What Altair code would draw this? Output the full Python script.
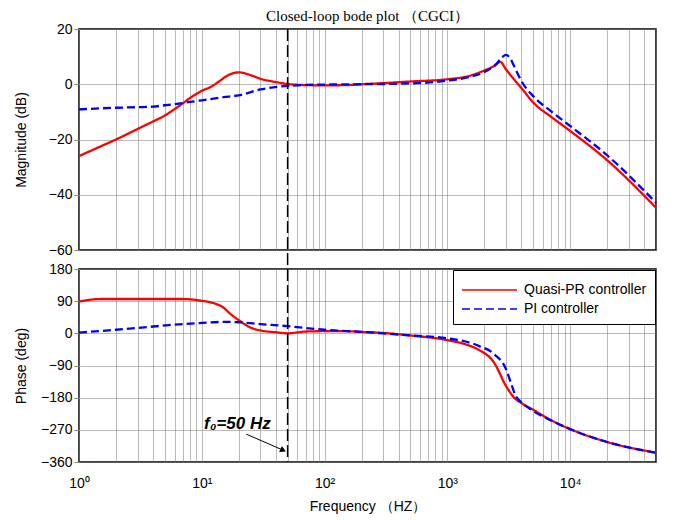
import altair as alt
import pandas as pd

# ---------------- data ----------------
series_names = ["Quasi-PR controller", "PI controller"]

# Magnitude (dB)
freq_mag_pr = [1, 1.5, 2, 3, 4, 5, 6, 7, 8, 10, 12, 14, 16, 18, 20, 25, 30, 40, 50, 70, 100,
               150, 200, 300, 500, 1000, 1500, 2000, 2400, 2700, 3000, 3500, 4000, 5000,
               7000, 10000, 20000, 50000]
mag_pr = [-26.0, -22.5, -20.0, -16.2, -13.5, -11.3, -9.0, -6.9, -5.0, -2.4, -0.8, 1.2, 3.0,
          4.0, 4.3, 3.3, 2.0, 0.8, 0.1, -0.3, -0.4, -0.3, 0.0, 0.4, 1.0, 1.8, 3.0, 5.0, 6.6,
          8.1, 5.4, 1.7, -1.3, -6.6, -11.8, -16.9, -27.5, -44.7]

freq_mag_pi = [1, 2, 3, 4, 5, 6.5, 8, 10, 15, 20, 30, 50, 100, 200, 500, 1000, 1500, 2000,
               2500, 2800, 3000, 3200, 3500, 4000, 5000, 7000, 10000, 20000, 50000]
mag_pi = [-9.1, -8.5, -8.3, -8.1, -7.6, -7.0, -6.4, -5.8, -4.7, -4.0, -1.9, -0.6, -0.1, 0.0,
          0.3, 1.3, 2.6, 4.4, 7.3, 9.8, 10.6, 9.8, 6.5, 1.2, -4.3, -9.8, -15.1, -25.7, -42.9]

# Phase (deg)
freq_ph_pr = [1, 1.5, 2, 5, 7, 10, 12, 15, 17, 20, 25, 30, 40, 50, 70, 100, 150, 200, 300,
              500, 1000, 1500, 1800, 2400, 3000, 3500, 4000, 5000, 7000, 10000, 20000, 50000]
ph_pr = [89, 96, 96, 96, 96, 91, 86, 72, 55, 37, 16, 8, 3, 0, 5, 6, 6, 4, 1, -6, -19, -34,
         -46, -82, -147, -180, -195, -214, -243, -268, -304, -334]

freq_ph_pi = [1, 2, 3, 5, 7, 10, 15, 20, 30, 50, 100, 200, 300, 500, 1000, 1800, 2400, 3000,
              3300, 3600, 4000, 5000, 7000, 10000, 20000, 50000]
ph_pi = [2, 10, 15, 22, 26, 29, 32, 31, 26, 20, 10, 4, 0, -6, -14, -35, -58, -100, -140,
         -175, -193, -217, -244, -268, -304, -334]

f0 = [50]
arrow_freq = [23, 46]
arrow_phase = [-282, -327]
f0_label_pos = [19.5, -254]

x_tick_values = [m * 10 ** k for k in range(5) for m in range(1, 10) if m * 10 ** k <= 50000]
mag_ticks = [-60, -40, -20, 0, 20]
phase_ticks = [-360, -270, -180, -90, 0, 90, 180]


def make_df(freqs_a, vals_a, freqs_b, vals_b):
    rows = []
    for f, v in zip(freqs_a, vals_a):
        rows.append({"freq": f, "value": v, "series": series_names[0]})
    for f, v in zip(freqs_b, vals_b):
        rows.append({"freq": f, "value": v, "series": series_names[1]})
    return pd.DataFrame(rows)


mag_df = make_df(freq_mag_pr, mag_pr, freq_mag_pi, mag_pi)
ph_df = make_df(freq_ph_pr, ph_pr, freq_ph_pi, ph_pi)
f0_df = pd.DataFrame({"freq": f0})
arrow_df = pd.DataFrame({"freq": arrow_freq, "value": arrow_phase})
label_df = pd.DataFrame({"freq": [f0_label_pos[0]], "value": [f0_label_pos[1]],
                         "t": ["f₀=50 Hz"]})
head_df = pd.DataFrame({"freq": [arrow_freq[-1]], "value": [arrow_phase[-1]]})

# ---------------- layout ----------------
W = 577
H1 = 221
H2 = 193
SP = 19

x_scale = alt.Scale(type="log", domain=[1, 50000], nice=False)
color_scale = alt.Scale(domain=series_names, range=["#ff0000", "#0000ff"])
dash_scale = alt.Scale(domain=series_names, range=[[1, 0], [8, 4]])

label_expr = ("datum.value == 1 ? '10⁰' : datum.value == 10 ? '10¹' : "
              "datum.value == 100 ? '10²' : datum.value == 1000 ? '10³' : "
              "datum.value == 10000 ? '10⁴' : ''")

x_top = alt.X("freq:Q", scale=x_scale,
              axis=alt.Axis(values=x_tick_values, labels=False, ticks=False, title=None))
y_top = alt.Y("value:Q", scale=alt.Scale(domain=[-60, 20], nice=False),
              axis=alt.Axis(values=mag_ticks, title="Magnitude (dB)", titlePadding=20,
                            labelOverlap=False))
x_bot = alt.X("freq:Q", scale=x_scale,
              axis=alt.Axis(values=x_tick_values, labelExpr=label_expr, ticks=False,
                            labelFlush=False, labelPadding=14, labelOverlap=False,
                            title="Frequency （HZ）", titlePadding=9))
y_bot = alt.Y("value:Q", scale=alt.Scale(domain=[-360, 180], nice=False),
              axis=alt.Axis(values=phase_ticks, title="Phase (deg)", titlePadding=12,
                            labelOverlap=False))

# ---------------- top: magnitude ----------------
top_lines = alt.Chart(mag_df).mark_line(interpolate="monotone", strokeWidth=2.3).encode(
    x=x_top,
    y=y_top,
    color=alt.Color("series:N", scale=color_scale, legend=None),
    strokeDash=alt.StrokeDash("series:N", scale=dash_scale, legend=None),
    order=alt.Order("freq:Q"),
)
top_rule = alt.Chart(f0_df).mark_rule(color="black", strokeDash=[12, 4], strokeWidth=1.5).encode(
    x=x_top,
    y=alt.value(0),
    y2=alt.value(H1 + SP),
)
top = alt.layer(top_lines, top_rule).properties(
    width=W, height=H1,
    title=alt.Title("Closed-loop bode plot （CGCI）", font="Liberation Serif", fontSize=15,
                    fontWeight="normal", anchor="middle", frame="group", offset=-2,
                    color="black"),
)

# ---------------- bottom: phase ----------------
bot_lines = alt.Chart(ph_df).mark_line(interpolate="monotone", strokeWidth=2.3).encode(
    x=x_bot,
    y=y_bot,
    color=alt.Color("series:N", scale=color_scale,
                    legend=alt.Legend(title=None, orient="top-right", offset=1,
                                      symbolType="M-1,0L4,0", symbolSize=484,
                                      symbolStrokeWidth=1.5, labelFontSize=14,
                                      labelFont="Liberation Sans", labelColor="black",
                                      rowPadding=0, padding=8, labelOffset=39,
                                      strokeColor="black", fillColor="white",
                                      cornerRadius=0)),
    strokeDash=alt.StrokeDash("series:N", scale=dash_scale,
                              legend=alt.Legend(title=None, orient="top-right")),
    order=alt.Order("freq:Q"),
)
bot_rule = alt.Chart(f0_df).mark_rule(color="black", strokeDash=[12, 4], strokeWidth=1.5).encode(
    x=x_bot,
    y=alt.value(0),
    y2=alt.value(H2),
)
arrow_line = alt.Chart(arrow_df).mark_line(color="black", strokeWidth=1).encode(
    x=x_bot,
    y=y_bot,
)
arrow_head = alt.Chart(head_df).mark_point(shape="triangle-right", filled=True, color="black",
                                           size=45, angle=25, opacity=1).encode(
    x=x_bot,
    y=y_bot,
)
f0_label = alt.Chart(label_df).mark_text(font="Liberation Sans", fontSize=17, fontWeight="bold",
                                         fontStyle="italic", color="black").encode(
    x=x_bot,
    y=y_bot,
    text="t:N",
)
bottom = alt.layer(bot_lines, bot_rule, arrow_line, arrow_head, f0_label).properties(
    width=W, height=H2)

chart = alt.vconcat(top, bottom, spacing=SP, bounds="flush").resolve_legend(
    color="independent", strokeDash="independent"
).properties(
    padding={"left": 5, "top": 0, "right": 5, "bottom": 0}
).configure(
    background="white"
).configure_view(
    stroke="black", strokeWidth=1.5
).configure_axis(
    grid=True, gridColor="#777777", gridDash=[1, 1], gridWidth=1,
    domain=False,
    labelFont="Liberation Sans", labelFontSize=14, labelColor="black",
    titleFont="Liberation Sans", titleFontSize=14, titleFontWeight="normal",
    titleColor="black",
)

chart.save("out.html", embed_options={"renderer": "svg", "actions": False})
